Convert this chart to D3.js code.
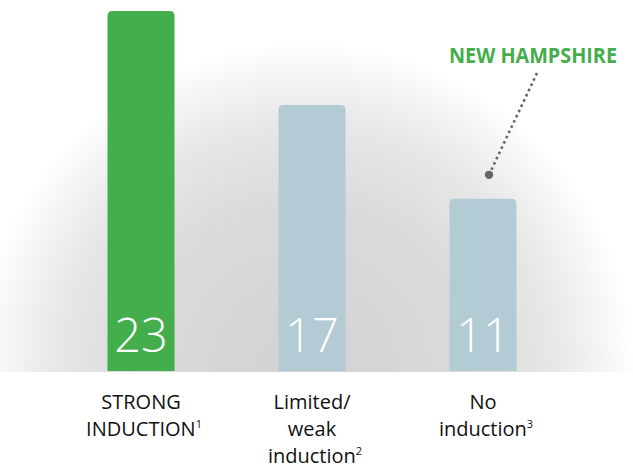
<!DOCTYPE html>
<html>
<head>
<meta charset="utf-8">
<script src="https://cdn.jsdelivr.net/npm/d3@7"></script>
<style>
  html, body { margin: 0; padding: 0; background: #fff; }
  svg { display: block; }
</style>
</head>
<body>
<svg id="chart" width="633" height="468"></svg>
<script>
// Number of states by induction category
const categories = ["strong", "limited", "none"];
const values = [23, 17, 11];
const labelLines = [
  [["STRONG", ""], ["INDUCTION", "1"]],
  [["Limited/", ""], ["weak", ""], ["induction", "2"]],
  [["No", ""], ["induction", "3"]]
];
const highlight = "strong";
const callout = { category: "none", text: "NEW HAMPSHIRE" };

const W = 633, H = 468;
const baseY = 371, topY = 11;
const svg = d3.select("#chart");

// Soft grey halo behind the bars
const defs = svg.append("defs");
const grad = defs.append("radialGradient")
  .attr("id", "halo")
  .attr("gradientUnits", "userSpaceOnUse")
  .attr("cx", 305).attr("cy", 372).attr("r", 330);
[[0, "#d2d2d2"], [0.5, "#dadada"], [0.75, "#e7e7e7"], [0.9, "#f5f5f5"], [1, "#ffffff"]]
  .forEach(([o, c]) => grad.append("stop").attr("offset", o).attr("stop-color", c));
svg.append("rect").attr("x", 0).attr("y", 0).attr("width", W).attr("height", baseY + 1)
  .attr("fill", "url(#halo)");

const x = d3.scaleBand().domain(categories).range([107.5, 516.5]).paddingInner(0.6082).paddingOuter(0);
const y = d3.scaleLinear().domain([0, 23]).range([baseY, topY]);

const r = 5;
function barPath(x0, w, yTop) {
  const x1 = x0 + w;
  return `M${x0},${baseY}V${yTop + r}Q${x0},${yTop} ${x0 + r},${yTop}H${x1 - r}Q${x1},${yTop} ${x1},${yTop + r}V${baseY}Z`;
}

const cx = c => x(c) + x.bandwidth() / 2;

const g = svg.append("g");
g.selectAll("path.bar").data(categories).join("path")
  .attr("class", "bar")
  .attr("d", (c, i) => barPath(x(c), x.bandwidth(), y(values[i])))
  .attr("fill", c => c === highlight ? "#43ae4b" : "#b3cbd4");

g.selectAll("text.val").data(categories).join("text")
  .attr("class", "val")
  .attr("x", c => cx(c))
  .attr("y", 352)
  .attr("text-anchor", "middle")
  .attr("font-family", "'Open Sans', sans-serif")
  .attr("font-weight", 300)
  .attr("font-size", 47)
  .attr("fill", "#ffffff")
  .text((c, i) => values[i]);

// Category labels under the bars
categories.forEach((c, i) => {
  const t = svg.append("text")
    .attr("text-anchor", "middle")
    .attr("font-family", "'Open Sans', sans-serif")
    .attr("font-size", 20)
    .attr("fill", "#111111");
  labelLines[i].forEach(([s, sup], j) => {
    t.append("tspan").attr("x", cx(c) + (sup ? 3 : 0)).attr("y", 409 + j * 27).text(s);
    if (sup) {
      t.append("tspan").attr("dy", -8).attr("font-size", 11).text(sup);
    }
  });
});

// Callout pointing at the "no induction" bar
const ci = categories.indexOf(callout.category);
const dot = { x: cx(callout.category) + 6, y: y(values[ci]) - 24 };
const end = { x: 537, y: 73 };
svg.append("line")
  .attr("x1", end.x).attr("y1", end.y).attr("x2", dot.x).attr("y2", dot.y)
  .attr("stroke", "#666").attr("stroke-width", 2.6).attr("stroke-dasharray", "2.6,3.2");
svg.append("circle").attr("cx", dot.x).attr("cy", dot.y).attr("r", 4.2).attr("fill", "#666");
svg.append("text")
  .attr("x", 617).attr("y", 63)
  .attr("text-anchor", "end")
  .attr("font-family", "'Open Sans', sans-serif")
  .attr("font-weight", 700)
  .attr("font-size", 21)
  .attr("textLength", 168)
  .attr("lengthAdjust", "spacingAndGlyphs")
  .attr("fill", "#43ae4b")
  .text(callout.text);
</script>
</body>
</html>
